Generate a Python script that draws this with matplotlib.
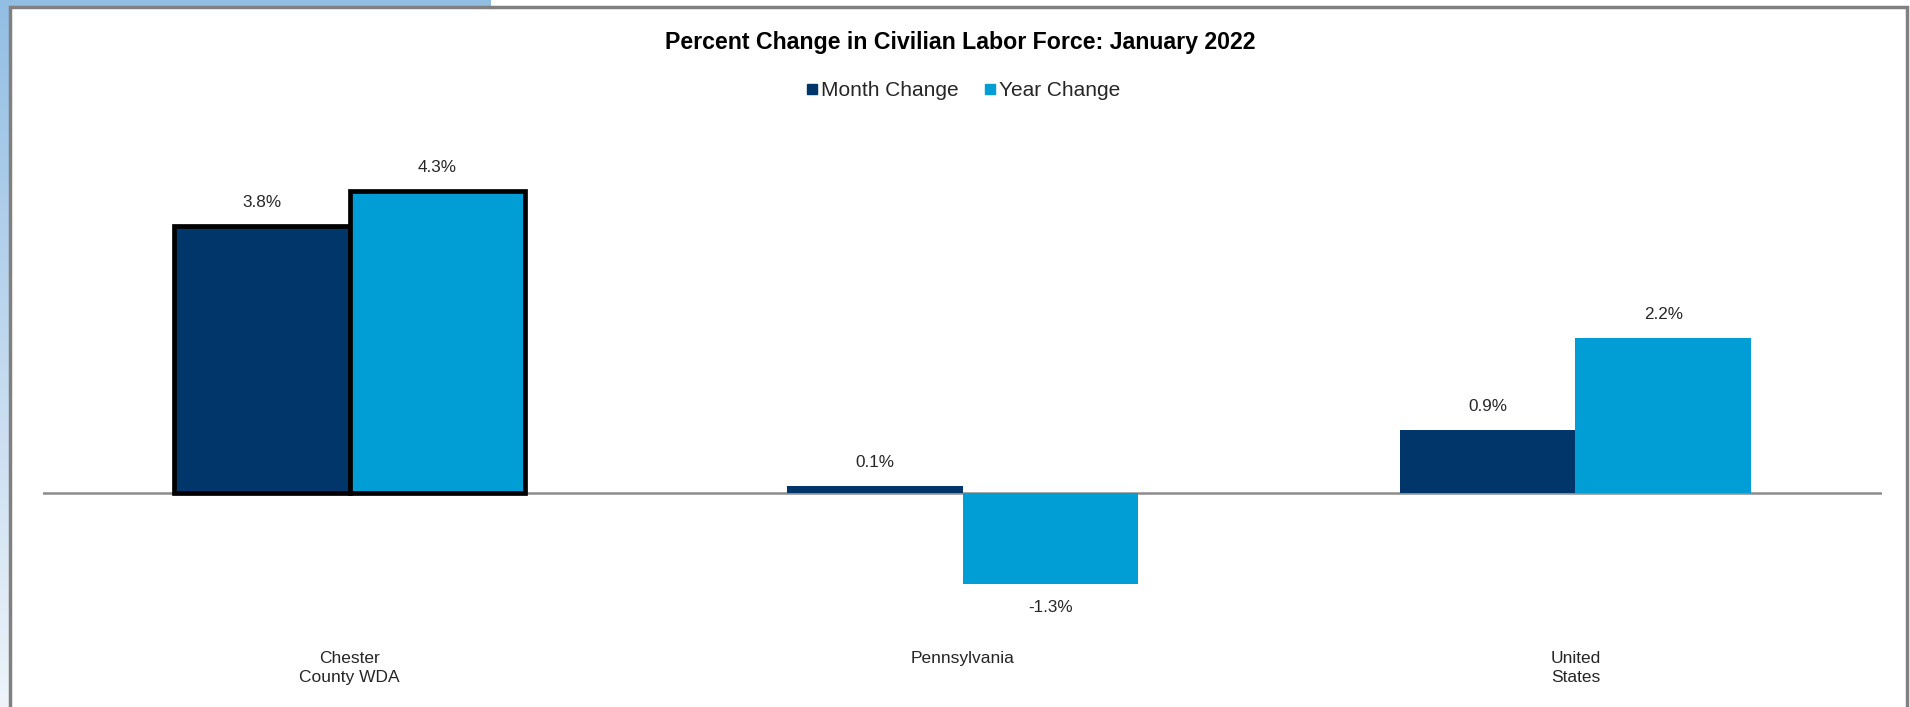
import numpy as np
import matplotlib
matplotlib.use('Agg')
import matplotlib.pyplot as plt
from matplotlib.colors import LinearSegmentedColormap
from matplotlib.lines import Line2D
from matplotlib.patches import Rectangle

categories = ['Chester\nCounty WDA', 'Pennsylvania', 'United\nStates']
month_change = [3.8, 0.1, 0.9]
year_change = [4.3, -1.3, 2.2]
series_names = ['Month Change', 'Year Change']
outlined = [True, False, False]  # the local area bars get a heavy outline

navy = '#01366B'
sky = '#019ED6'

plt.rcParams['font.family'] = ['Liberation Sans', 'DejaVu Sans']

W, H = 1910, 707
fig = plt.figure(figsize=(W / 100, H / 100), dpi=100)

# pale blue gradient behind the frame (top-left strip)
bg = fig.add_axes([0, 0, 491 / W, 1])
cmap = LinearSegmentedColormap.from_list('bg', ['#93BEE4', '#EEF4FA'])
bg.imshow(np.linspace(0, 1, 256)[:, None], cmap=cmap, aspect='auto',
          extent=[0, 1, 0, 1])
bg.set_axis_off()

# white panel with grey border
fig.patches.append(Rectangle((10 / W, -0.02), (1907 - 10) / W, (H - 7) / H + 0.02,
                             transform=fig.transFigure, facecolor='white',
                             edgecolor='#808080', linewidth=2.5, zorder=1))

ax = fig.add_axes([43 / W, 87 / H, 1839 / W, 490 / H])
ax.set_zorder(3)
ax.patch.set_visible(False)

x = np.arange(len(categories))
w = 0.286
edges = ['black' if o else 'none' for o in outlined]
lws = [3.4 if o else 0 for o in outlined]
b1 = ax.bar(x - w / 2, month_change, w, color=navy, edgecolor=edges, linewidth=lws, zorder=3)
b2 = ax.bar(x + w / 2, year_change, w, color=sky, edgecolor=edges, linewidth=lws, zorder=3)
ax.axhline(0, color='#8C8C8C', linewidth=1.8, zorder=2)

for bars, vals in ((b1, month_change), (b2, year_change)):
    for rect, v in zip(bars, vals):
        off = 17 if v >= 0 else -17
        ax.annotate(f'{v:.1f}%', (rect.get_x() + rect.get_width() / 2, v),
                    xytext=(0, off), textcoords='offset points',
                    ha='center', va='center', fontsize=12.3, color='#262626')

ax.set_xlim(-0.5, len(categories) - 0.5)
ax.set_ylim(-1.807, 5.164)
ax.set_xticks(x)
ax.set_xticklabels(categories, fontsize=12.5, color='#262626')
for lab in ax.get_xticklabels():
    lab.set_linespacing(1.35)
ax.tick_params(axis='x', length=0, pad=22)
ax.set_yticks([])
for s in ax.spines.values():
    s.set_visible(False)

fig.text(960 / W, 1 - 42 / H, 'Percent Change in Civilian Labor Force: January 2022',
         ha='center', va='center', fontsize=16.7, fontweight='bold', color='black', zorder=4)

handles = [Line2D([], [], linestyle='none', marker='s', markersize=7, color=c)
           for c in (navy, sky)]
fig.legend(handles, series_names, loc='center', bbox_to_anchor=(963 / W, 1 - 91 / H),
           ncol=2, frameon=False, fontsize=15, handlelength=0.55, handletextpad=0.15,
           columnspacing=1.25, labelcolor='#262626')

fig.savefig('out.png', dpi=100)
